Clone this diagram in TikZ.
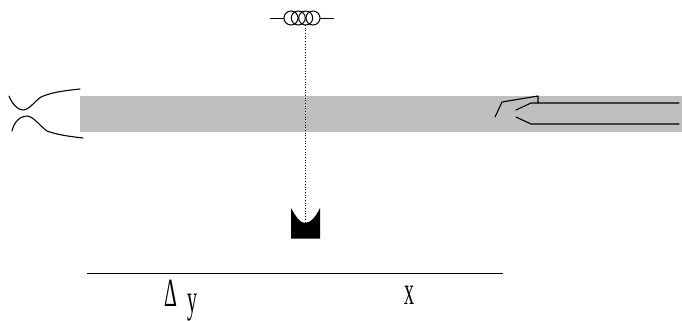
\documentclass[tikz,border=0pt]{standalone}
\usepackage{fontspec}
\setmainfont{Liberation Serif}
\definecolor{band}{HTML}{BFBFBF}
\tikzset{
  wire/.style={draw=black,line width=1.1bp,line cap=round,line join=round},
  thinwire/.style={draw=black,line width=1.0bp},
  condensed/.style={inner sep=0pt,anchor=base,xscale=0.5,font=\fontsize{40bp}{40bp}\selectfont}
}
\begin{document}
\begin{tikzpicture}[x=1bp,y=-1bp]
\useasboundingbox (0,0) rectangle (682,320);
% band
\fill[band] (80,96) rectangle (682,132);
% coil
\coordinate (coilL) at (270,18);
\coordinate (coilR) at (334,18);
\coordinate (coilB) at (305,25);
\draw[thinwire] (coilL) -- (284,18);
\draw[thinwire] (320,18) -- (coilR);
\foreach \c in {291,298.3,305.7,313} \draw[thinwire] (\c,18) circle[radius=7bp];
% block
\coordinate (blockT) at (305,223);
\fill[black] (291,208) .. controls (296,217) and (300,223) .. (blockT)
  .. controls (311,223) and (316,216) .. (320,208) -- (320,238.5) -- (291,238.5) -- cycle;
\draw[black,line width=0.7bp,dotted] (coilB) -- (blockT);
% left
\draw[wire] (9,96) .. controls (12,104) and (18,110) .. (23,110)
  .. controls (29,110) and (35,101) .. (41,97)
  .. controls (52,92) and (66,90.5) .. (80,89);
\draw[wire] (12,131) .. controls (14,122) and (20,116) .. (27,116)
  .. controls (33,116) and (40,126) .. (47,131)
  .. controls (58,135) and (70,136.5) .. (83,138);
% right
\draw[wire] (495,117) -- (502,102) -- (538,96) -- (538,103);
\draw[wire] (516,110) -- (531,103) -- (679,103);
\draw[wire] (516,117) -- (531,124) -- (679,124);
% baseline
\coordinate (axisL) at (87,273);
\coordinate (axisR) at (503,273);
\draw[thinwire] (axisL) -- (axisR);
% labels
\node[condensed] (delta) at (171,306) {Δ};
\node[condensed] (why) at (192,312) {y};
\node[condensed] (ex) at (409,304) {x};
\end{tikzpicture}
\end{document}
